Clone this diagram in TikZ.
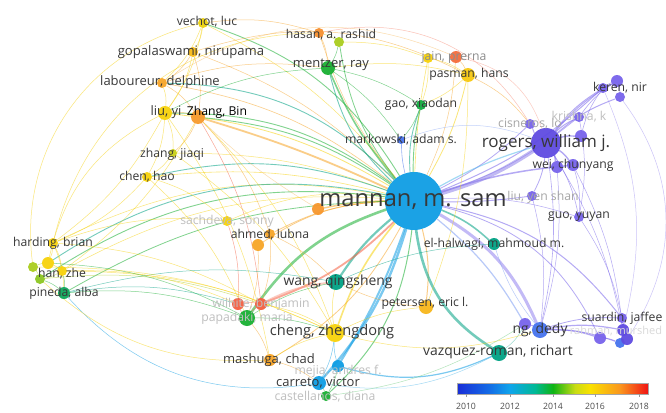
\documentclass[tikz,border=0pt]{standalone}
\usepackage{fontspec}
\setmainfont{Open Sans}
\usetikzlibrary{backgrounds}
% colours of the publication years
\definecolor{yPur}{RGB}{120,100,235}
\definecolor{yVio}{RGB}{95,75,225}
\definecolor{yBlu}{RGB}{70,115,238}
\definecolor{yAzu}{RGB}{15,158,228}
\definecolor{yTea}{RGB}{0,162,132}
\definecolor{yGrn}{RGB}{25,175,50}
\definecolor{yLim}{RGB}{170,205,30}
\definecolor{yYel}{RGB}{247,210,10}
\definecolor{yOrg}{RGB}{247,165,40}
\definecolor{yRed}{RGB}{245,95,65}
% colour bar stops
\definecolor{cb0}{RGB}{25,45,215}
\definecolor{cb1}{RGB}{20,110,230}
\definecolor{cb2}{RGB}{15,165,235}
\definecolor{cb3}{RGB}{0,185,150}
\definecolor{cb4}{RGB}{15,180,20}
\definecolor{cb5}{RGB}{200,220,20}
\definecolor{cb6}{RGB}{250,225,0}
\definecolor{cb7}{RGB}{250,150,30}
\definecolor{cb8}{RGB}{240,20,20}
\tikzset{
  au/.style={circle, inner sep=0pt, fill opacity=0.95},
  lab/.style={inner sep=0pt, text=black!78, font=\fontsize{12.2}{14}\selectfont},
  faint/.style={lab, text=black!25},
  link/.style={line width=0.5pt, draw opacity=0.55, line cap=round},
  yrlab/.style={inner sep=0pt, text=black!70, font=\fontsize{8.7}{10}\selectfont}
}

\begin{document}
\begin{tikzpicture}[x=1pt, y=-1pt]
    \useasboundingbox (0,0) rectangle (666,412);
    % Nodes
    \node[au, minimum size=58pt, fill=yAzu] (mannan) at (414,201) {};
    \node[au, minimum size=30pt, fill=yVio] (rogers) at (546,143) {};
    \node[au, minimum size=12pt, fill=yPur] (rog2) at (581,136) {};
    \node[au, minimum size=10pt, fill=yPur] (cisneros) at (530,124) {};
    \node[au, minimum size=10pt, fill=yPur] (krishna) at (579,117) {};
    \node[au, minimum size=12pt, fill=yPur] (wei2) at (557,167) {};
    \node[au, minimum size=12pt, fill=yPur] (wei) at (573,165) {};
    \node[au, minimum size=10pt, fill=yPur] (keren) at (603,88) {};
    \node[au, minimum size=12pt, fill=yPur] (ker2) at (617,81) {};
    \node[au, minimum size=10pt, fill=yPur] (ker3) at (620,97) {};
    \node[au, minimum size=10pt, fill=yPur] (liuys) at (532,196) {};
    \node[au, minimum size=10pt, fill=yPur] (guo) at (579,217) {};
    \node[au, minimum size=10pt, fill=yPur] (suardin) at (622,318) {};
    \node[au, minimum size=12pt, fill=yVio] (sua2) at (623,330) {};
    \node[au, minimum size=12pt, fill=yPur] (sua3) at (600,338) {};
    \node[au, minimum size=10pt, fill=yBlu] (sua4) at (620,343) {};
    \node[au, minimum size=12pt, fill=yVio] (sua5) at (627,339) {};
    \node[au, minimum size=12pt, fill=yPur] (ng2) at (525,324) {};
    \node[au, minimum size=16pt, fill=yBlu] (ngdedy) at (540,330) {};
    \node[au, minimum size=12pt, fill=yTea] (elhalwagi) at (494,244) {};
    \node[au, minimum size=16pt, fill=yTea] (wang) at (336,282) {};
    \node[au, minimum size=14pt, fill=yOrg!60!yYel] (petersen) at (426,307) {};
    \node[au, minimum size=18pt, fill=yYel] (cheng) at (335,333) {};
    \node[au, minimum size=16pt, fill=yTea] (vazquez) at (499,353) {};
    \node[au, minimum size=12pt, fill=yAzu] (mejia) at (338,366) {};
    \node[au, minimum size=14pt, fill=yAzu] (carreto) at (319,383) {};
    \node[au, minimum size=10pt, fill=yGrn] (castellanos) at (326,396) {};
    \node[au, minimum size=12pt, fill=yOrg] (mashuga) at (270,360) {};
    \node[au, minimum size=12pt, fill=yRed] (wilh2) at (238,304) {};
    \node[au, minimum size=12pt, fill=yRed] (wilhite) at (261,304) {};
    \node[au, minimum size=16pt, fill=yGrn] (papadaki) at (247,318) {};
    \node[au, minimum size=10pt, fill=yYel] (sachdeva) at (227,221) {};
    \node[au, minimum size=10pt, fill=yOrg] (ahmed) at (270,234) {};
    \node[au, minimum size=12pt, fill=yOrg] (ahm2) at (258,245) {};
    \node[au, minimum size=12pt, fill=yOrg!80!yRed] (pere) at (318,209) {};
    \node[au, minimum size=10pt, fill=yYel] (harding) at (53,243) {};
    \node[au, minimum size=10pt, fill=yLim] (har2) at (33,267) {};
    \node[au, minimum size=12pt, fill=yYel] (har3) at (48,263) {};
    \node[au, minimum size=10pt, fill=yYel] (han) at (62,271) {};
    \node[au, minimum size=10pt, fill=yLim!80!yGrn] (han2) at (40,279) {};
    \node[au, minimum size=12pt, fill=yTea!50!yGrn] (pineda) at (64,293) {};
    \node[au, minimum size=10pt, fill=yYel!85!yLim] (vechot) at (203,23) {};
    \node[au, minimum size=10pt, fill=yOrg!50!yYel] (gopal) at (193,52) {};
    \node[au, minimum size=10pt, fill=yOrg] (laboureur) at (162,83) {};
    \node[au, minimum size=14pt, fill=yYel] (liuyi) at (165,113) {};
    \node[au, minimum size=14pt, fill=yOrg!85!yRed] (zhangbin) at (198,117) {};
    \node[au, minimum size=8pt, fill=yLim!60!yYel] (zhangjq) at (173,153) {};
    \node[au, minimum size=10pt, fill=yYel] (chenhao) at (147,177) {};
    \node[au, minimum size=10pt, fill=yOrg!70!yRed] (hasan) at (319,33) {};
    \node[au, minimum size=10pt, fill=yLim] (has2) at (339,42) {};
    \node[au, minimum size=14pt, fill=yGrn] (mentzer) at (328,68) {};
    \node[au, minimum size=10pt, fill=yYel] (jain2) at (428,58) {};
    \node[au, minimum size=12pt, fill=yRed!80!yOrg] (jain) at (456,57) {};
    \node[au, minimum size=14pt, fill=yYel!80!yOrg] (pasman) at (468,75) {};
    \node[au, minimum size=10pt, fill=yGrn!80!yTea] (gao) at (421,105) {};
    \node[au, minimum size=8pt, fill=yBlu] (markowski) at (401,140) {};
    % Links
    \begin{scope}[on background layer]
    \fill[white] (0,0) rectangle (666,412);
    \foreach \n/\c/\w/\b in {vechot/yYel/0.5pt/12, gopal/yOrg/0.5pt/12, laboureur/yOrg/0.6pt/14,
        liuyi/yYel/0.8pt/12, zhangbin/yOrg/1.8pt/4, zhangjq/yYel/0.5pt/10, chenhao/yYel/0.6pt/10,
        hasan/yOrg/0.5pt/-10, mentzer/yGrn/1.6pt/-8, jain/yOrg/0.5pt/10, pasman/yYel/0.8pt/8,
        gao/yGrn/0.9pt/-6, markowski/yBlu/0.6pt/-6, cisneros/yPur/0.8pt/8, krishna/yPur/0.6pt/10,
        wei/yPur/1.5pt/-6, keren/yPur/1.0pt/10, liuys/yPur/0.9pt/4, guo/yPur/0.5pt/-10,
        elhalwagi/yTea/1.6pt/-10, wang/yTea/2.2pt/8, petersen/yOrg/1.0pt/-10, cheng/yYel/1.6pt/10,
        suardin/yPur/1.0pt/-20, sua3/yPur/0.8pt/-25, mashuga/yOrg/0.8pt/-15, sachdeva/yYel/0.5pt/15,
        ahmed/yOrg/0.8pt/12, ahm2/yOrg/0.8pt/15, pere/yOrg/1.5pt/5, harding/yYel/0.5pt/18,
        han/yYel/0.5pt/16, pineda/yGrn/0.8pt/14, wilhite/yRed/1.8pt/-12, castellanos/yGrn/1.0pt/-20,
        has2/yGrn/0.8pt/-14, jain2/yYel/0.6pt/-4}
      \draw[link, draw=\c, line width=\w] (\n) to[bend left=\b] (mannan);
    % older links of the hub, drawn in the hub colour
    \foreach \n/\c/\b in {vechot/yGrn/20, laboureur/yTea/22, liuyi/yGrn/18, chenhao/yTea/16,
        har3/yTea/22, han2/yGrn/20, mentzer/yTea/-16, gao/yTea/-12, zhangbin/yGrn/14}
      \draw[link, draw=\c, line width=0.9pt] (\n) to[bend left=\b] (mannan);
    \draw[link, draw=yVio!70, line width=4pt] (mannan) to[bend right=8] (rogers);
    \draw[link, draw=yAzu!70, line width=1.2pt] (mannan) to[bend left=6] (rogers);
    \draw[link, draw=yPur!80, line width=3pt] (mannan) to[bend left=18] (ngdedy);
    \draw[link, draw=yBlu!70, line width=1.2pt] (mannan) to[bend left=10] (ng2);
    \draw[link, draw=yTea, line width=2.6pt] (mannan) to[bend right=25] (vazquez);
    \draw[link, draw=yAzu, line width=2.4pt] (mannan) to[bend left=12] (carreto);
    \draw[link, draw=yAzu, line width=2pt] (mannan) to[bend left=6] (mejia);
    \draw[link, draw=yGrn, line width=2.6pt] (papadaki) to[bend left=18] (mannan);
    \draw[link, draw=yRed!60, line width=2pt] (wilhite) to[bend left=10] (wang);
    % top left cluster
    \foreach \a/\b/\c in {vechot/gopal/yYel, vechot/laboureur/yYel, gopal/laboureur/yOrg,
        gopal/liuyi/yYel, laboureur/liuyi/yYel, liuyi/zhangbin/yOrg, laboureur/zhangbin/yOrg,
        gopal/zhangbin/yOrg, liuyi/zhangjq/yYel, liuyi/chenhao/yYel, zhangjq/chenhao/yYel,
        zhangbin/zhangjq/yOrg, vechot/liuyi/yYel, chenhao/harding/yYel, liuyi/harding/yYel,
        zhangbin/han/yYel, chenhao/sachdeva/yYel, zhangbin/ahmed/yOrg, liuyi/mashuga/yYel,
        zhangbin/cheng/yYel, laboureur/mentzer/yOrg, liuyi/mentzer/yGrn, vechot/hasan/yOrg,
        zhangbin/wilhite/yRed, chenhao/papadaki/yYel, zhangjq/cheng/yYel}
      \draw[link] [draw=\c] (\a) to[bend left=12] (\b);
    \draw[link, draw=yOrg] (gopal) to[bend left=22] (pasman);
    \draw[link, draw=yOrg!70] (laboureur) to[bend left=28] (jain);
    \draw[link, draw=yYel] (harding) to[bend left=38] (hasan);
    \draw[link, draw=yYel] (har2) to[bend left=42] (vechot);
    \draw[link, draw=yOrg!70] (zhangbin) to[bend right=6] (pere);
    % top middle cluster
    \foreach \a/\b/\c in {hasan/has2/yLim, hasan/mentzer/yOrg, has2/mentzer/yGrn, mentzer/gao/yGrn,
        mentzer/pasman/yYel, jain2/pasman/yYel, jain/pasman/yOrg, has2/jain2/yYel,
        pasman/gao/yYel, gao/markowski/yGrn, mentzer/markowski/yGrn, jain2/gao/yYel}
      \draw[link] [draw=\c] (\a) to[bend left=10] (\b);
    \draw[link, draw=yRed!70] (hasan) to[bend left=35] (cisneros);
    \draw[link, draw=yOrg] (pasman) to[bend left=12] (cisneros);
    \draw[link, draw=yRed!60] (jain) to[bend left=30] (rogers);
    \draw[link, draw=yYel] (pasman) to[bend left=10] (petersen);
    % purple cluster
    \foreach \a/\b/\w in {rogers/keren/1pt, rogers/ker2/1pt, rogers/ker3/1pt, rogers/krishna/1pt,
        rogers/cisneros/1pt, rogers/wei/1.4pt, rogers/wei2/1.4pt, rogers/rog2/1.4pt, rogers/liuys/0.8pt,
        rogers/guo/0.6pt, rog2/keren/0.6pt, krishna/ker2/0.6pt, wei/guo/0.5pt, wei/sua2/0.5pt,
        wei2/ngdedy/0.5pt, guo/suardin/0.5pt, keren/ker2/0.6pt, ker2/ker3/0.6pt, ng2/ngdedy/1pt,
        ngdedy/sua3/1.2pt, ngdedy/sua2/1.2pt, ngdedy/sua4/1pt, ngdedy/suardin/0.8pt, sua3/sua4/0.6pt,
        suardin/sua2/0.6pt, sua2/sua5/0.6pt, sua4/sua5/0.6pt, rogers/ngdedy/0.6pt, rogers/sua2/0.5pt,
        liuys/ngdedy/0.5pt, krishna/guo/0.5pt}
      \draw[link, draw=yPur, line width=\w] (\a) to[bend left=10] (\b);
    \draw[link, draw=yPur!70] (ker3) to[bend left=35] (sua5);
    \draw[link, draw=yPur!70] (keren) to[bend left=18] (sua2);
    \draw[link, draw=yBlu!70] (elhalwagi) to[bend right=10] (ngdedy);
    \draw[link, draw=yTea!70] (vazquez) to[bend right=12] (ng2);
    \draw[link, draw=yBlu!60] (markowski) to[bend left=20] (rogers);
    % bottom cluster
    \foreach \a/\b/\c in {papadaki/wilhite/yRed, papadaki/wilh2/yRed, wilh2/wilhite/yRed,
        papadaki/mashuga/yOrg, papadaki/cheng/yGrn, papadaki/wang/yGrn, wilhite/cheng/yYel,
        mashuga/carreto/yOrg, mashuga/cheng/yYel, carreto/mejia/yAzu, carreto/castellanos/yGrn,
        mejia/cheng/yAzu, cheng/wang/yYel, cheng/petersen/yYel, wang/elhalwagi/yTea,
        petersen/wang/yOrg, mejia/castellanos/yGrn, ahm2/papadaki/yOrg, ahmed/wilhite/yOrg,
        sachdeva/wilh2/yRed, ahmed/wang/yOrg, cheng/carreto/yAzu}
      \draw[link] [draw=\c] (\a) to[bend left=10] (\b);
    \draw[link, draw=yAzu, line width=1.2pt] (mejia) to[bend right=20] (vazquez);
    \draw[link, draw=yAzu!70] (carreto) to[bend right=18] (vazquez);
    \draw[link, draw=yYel] (cheng) to[bend right=15] (ngdedy);
    \draw[link, draw=yGrn!60] (castellanos) to[bend right=12] (ng2);
    % left cluster
    \foreach \a/\b/\c in {harding/har3/yYel, harding/han/yYel, har2/har3/yLim, har3/han/yYel,
        han/han2/yLim, han2/pineda/yGrn, han/pineda/yGrn, harding/pineda/yYel, har2/han2/yLim}
      \draw[link] [draw=\c] (\a) to[bend left=10] (\b);
    \foreach \a/\b/\c in {harding/wilhite/yYel, han/wilh2/yYel, pineda/papadaki/yGrn,
        pineda/wang/yTea, han/cheng/yYel, har3/papadaki/yGrn, han2/wilhite/yLim, harding/sachdeva/yYel,
        har2/cheng/yYel, pineda/wilh2/yTea}
      \draw[link] [draw=\c] (\a) to[bend left=12] (\b);
    \draw[link, draw=yAzu] (pineda) to[bend right=28] (carreto);
    \draw[link, draw=yYel] (han2) to[bend right=22] (mashuga);
    \draw[link, draw=yYel] (har3) to[bend left=25] (liuyi);
    \end{scope}
    % Labels
    \node[lab, font=\fontsize{23.7}{26}\selectfont] (l-mannan) at (413,202) {mannan, m. sam};
    \node[lab, font=\fontsize{17}{19}\selectfont] (l-rogers) at (546,143) {rogers, william j.};
    \node[lab] (l-vechot) at (207,22) {vechot, luc};
    \node[lab, font=\fontsize{13.1}{15}\selectfont] (l-gopal) at (191,52) {gopalaswami, nirupama};
    \node[lab, font=\fontsize{13}{15}\selectfont] (l-laboureur) at (160,82) {laboureur, delphine};
    \node[lab, font=\fontsize{13}{15}\selectfont] (l-liuyi) at (166,112) {liu, yi};
    \node[lab, text=black] (l-zhangbin) at (217,112) {Zhang, Bin};
    \node[lab] (l-zhangjq) at (172,154) {zhang, jiaqi};
    \node[lab] (l-chenhao) at (147,177) {chen, hao};
    \node[lab] (l-hasan) at (331,35) {hasan, a. rashid};
    \node[lab, font=\fontsize{13}{15}\selectfont] (l-mentzer) at (331,65) {mentzer, ray};
    \node[faint, text=black!45] (l-jain) at (454,57) {jain, prerna};
    \node[lab] (l-pasman) at (469,74) {pasman, hans};
    \node[lab] (l-gao) at (421,104) {gao, xiaodan};
    \node[lab] (l-markowski) at (401,140) {markowski, adam s.};
    \node[faint, text=black!35] (l-cisneros) at (530,124) {cisneros, lo};
    \node[faint] (l-krishna) at (579,117) {krishna, k};
    \node[lab] (l-wei) at (573,165) {wei, chunyang};
    \node[lab] (l-keren) at (620,88) {keren, nir};
    \node[faint, text=black!35] (l-liuys) at (543,197) {liu, yen shan};
    \node[lab] (l-guo) at (579,217) {guo, yuyan};
    \node[lab] (l-elhalwagi) at (494,244) {el-halwagi, mahmoud m.};
    \node[lab, font=\fontsize{13.9}{16}\selectfont] (l-wang) at (338,282) {wang, qingsheng};
    \node[lab] (l-petersen) at (425,303) {petersen, eric l.};
    \node[lab, font=\fontsize{14.6}{17}\selectfont] (l-cheng) at (332,332) {cheng, zhengdong};
    \node[lab, font=\fontsize{13.9}{16}\selectfont] (l-ngdedy) at (540,330) {ng, dedy};
    \node[lab, font=\fontsize{13.9}{16}\selectfont] (l-vazquez) at (498,352) {vazquez-roman, richart};
    \node[lab] (l-suardin) at (622,318) {suardin, jaffee};
    \node[faint, text=black!15, font=\fontsize{11}{13}\selectfont] (l-murshed) at (616,331) {rahman, murshed};
    \node[faint] (l-mejia) at (338,371) {mejia, andres f.};
    \node[lab, font=\fontsize{13}{15}\selectfont] (l-carreto) at (318,383) {carreto, victor};
    \node[faint] (l-castellanos) at (325,397) {castellanos, diana};
    \node[lab, font=\fontsize{13}{15}\selectfont] (l-mashuga) at (269,360) {mashuga, chad};
    \node[faint] (l-wilhite) at (261,304) {wilhite, benjamin};
    \node[faint] (l-papadaki) at (247,318) {papadaki, maria};
    \node[faint] (l-sachdeva) at (227,221) {sachdeva, sonny};
    \node[lab] (l-ahmed) at (270,235) {ahmed, lubna};
    \node[lab] (l-harding) at (53,243) {harding, brian};
    \node[lab] (l-han) at (62,274) {han, zhe};
    \node[lab] (l-pineda) at (64,293) {pineda, alba};
    % Colour bar
    \foreach \xa/\xb/\ca/\cb in {457/490/cb0/cb1, 490/510/cb1/cb2, 510/535/cb2/cb3, 535/553/cb3/cb4,
        553/575/cb4/cb5, 575/590/cb5/cb6, 590/620/cb6/cb7, 620/648/cb7/cb8}
      \shade[left color=\ca, right color=\cb] (\xa,383) rectangle (\xb,394);
    \draw[black!35, line width=0.4pt] (457,383) rectangle (648,394);
    \foreach \x/\yr in {466/2010, 510/2012, 553/2014, 595/2016, 639/2018} {
      \draw[black!40, line width=0.4pt] (\x,394) -- (\x,397);
      \node[yrlab] (yr\yr) at (\x,406) {\yr};
    }
\end{tikzpicture}
\end{document}
